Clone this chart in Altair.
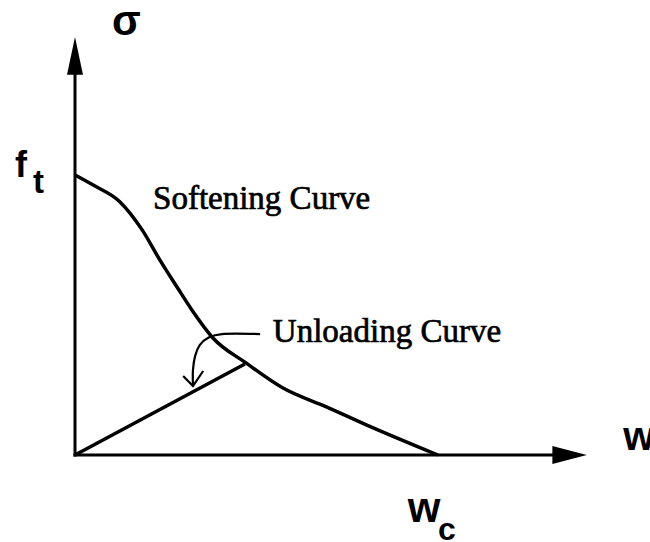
import altair as alt
import pandas as pd

# Cohesive crack model: stress (fraction of f_t) vs crack opening w (fraction of w_c)
soft_w = [0.0, 0.05, 0.124, 0.185, 0.234, 0.281, 0.322, 0.380, 0.471, 0.573, 0.694, 0.804, 1.0]
soft_s = [1.0, 0.964, 0.904, 0.804, 0.696, 0.600, 0.518, 0.418, 0.329, 0.239, 0.171, 0.107, 0.0]

# Unloading path from the softening curve back to the origin
unload_w = [0.0, 0.468]
unload_s = [0.0, 0.325]

# Leader arrow from the "Unloading Curve" label
leader_w = [0.510, 0.405, 0.366, 0.344, 0.331, 0.325, 0.325]
leader_s = [0.432, 0.432, 0.418, 0.393, 0.354, 0.304, 0.250]
barb_w = [0.298, 0.325, 0.353]
barb_s = [0.282, 0.246, 0.300]

# Axis extents (shaft end and arrow tip) and arrowhead half widths
x_shaft_end, x_tip, x_head_half = 1.325, 1.410, 0.032
y_shaft_end, y_tip, y_head_half = 1.368, 1.493, 0.022

# Label anchors
soft_label = ("Softening Curve", 0.215, 0.880)
unload_label = ("Unloading Curve", 0.545, 0.404)
sigma_label = ("σ", 0.102, 1.500)
f_label = ("f", -0.165, 0.993)
t_sub = ("t", -0.116, 0.936)
w_label = ("w", 1.510, 0.018)
wc_label = ("w", 0.917, -0.239)
c_sub = ("c", 1.000, -0.304)

xs = alt.Scale(domain=[-75 / 363, 575 / 363], nice=False, zero=False)
ys = alt.Scale(domain=[-87 / 280, 455 / 280], nice=False, zero=False)

def X(field="x"):
    return alt.X(f"{field}:Q", scale=xs, axis=None)

def Y(field="y"):
    return alt.Y(f"{field}:Q", scale=ys, axis=None)

LW = 3.5
ink = "#000000"

axes_df = pd.DataFrame({
    "x": [0, 0, 0, x_shaft_end],
    "y": [y_shaft_end, 0, 0, 0],
    "g": ["v", "v", "h", "h"],
    "i": [0, 1, 0, 1],
})
axes = alt.Chart(axes_df).mark_line(color=ink, strokeWidth=3, strokeCap="square").encode(
    x=X(), y=Y(), detail="g:N", order="i:Q"
)

y_head = alt.Chart(pd.DataFrame({
    "y": [y_shaft_end - 0.01, y_tip],
    "x": [-y_head_half, 0.0],
    "x2": [y_head_half, 0.0],
})).mark_area(orient="horizontal", color=ink).encode(
    y=Y(), x=X(), x2="x2:Q"
)

x_head = alt.Chart(pd.DataFrame({
    "x": [x_shaft_end - 0.01, x_tip],
    "y": [-x_head_half, 0.0],
    "y2": [x_head_half, 0.0],
})).mark_area(orient="vertical", color=ink).encode(
    x=X(), y=Y(), y2="y2:Q"
)

softening = alt.Chart(pd.DataFrame({"x": soft_w, "y": soft_s})).mark_line(
    color=ink, strokeWidth=LW, interpolate="monotone"
).encode(x=X(), y=Y())

unloading = alt.Chart(pd.DataFrame({"x": unload_w, "y": unload_s})).mark_line(
    color=ink, strokeWidth=LW
).encode(x=X(), y=Y())

leader = alt.Chart(pd.DataFrame({
    "x": leader_w, "y": leader_s, "i": list(range(len(leader_w)))
})).mark_line(color=ink, strokeWidth=2.2, interpolate="cardinal").encode(
    x=X(), y=Y(), order="i:Q"
)

barbs = alt.Chart(pd.DataFrame({
    "x": barb_w, "y": barb_s, "i": list(range(len(barb_w)))
})).mark_line(color=ink, strokeWidth=2.2).encode(x=X(), y=Y(), order="i:Q")

def label(item, font, size, weight="normal", outline=0.0):
    text, x, y = item
    style = dict(
        align="left", baseline="alphabetic", font=font, fontSize=size,
        fontWeight=weight, color=ink
    )
    if outline > 0:
        style.update(stroke=ink, strokeWidth=outline)
    return alt.Chart(pd.DataFrame({"t": [text], "x": [x], "y": [y]})).mark_text(
        **style
    ).encode(x=X(), y=Y(), text="t:N")

serif = "Liberation Serif"
sans = "Liberation Sans"

texts = [
    label(soft_label, serif, 33, outline=0.7),
    label(unload_label, serif, 33, outline=0.7),
    label(sigma_label, sans, 42, "bold"),
    label(f_label, sans, 36, "bold"),
    label(t_sub, sans, 33, "bold"),
    label(w_label, sans, 40, "bold"),
    label(wc_label, sans, 42, "bold"),
    label(c_sub, sans, 32, "bold"),
]

chart = alt.layer(
    axes, y_head, x_head, softening, unloading, leader, barbs, *texts
).properties(
    width=650, height=542, autosize=alt.AutoSizeParams(type="none"), padding=0,
    background="white"
).configure_view(stroke=None)

chart.save("out.html", embed_options={"renderer": "svg", "actions": False})
